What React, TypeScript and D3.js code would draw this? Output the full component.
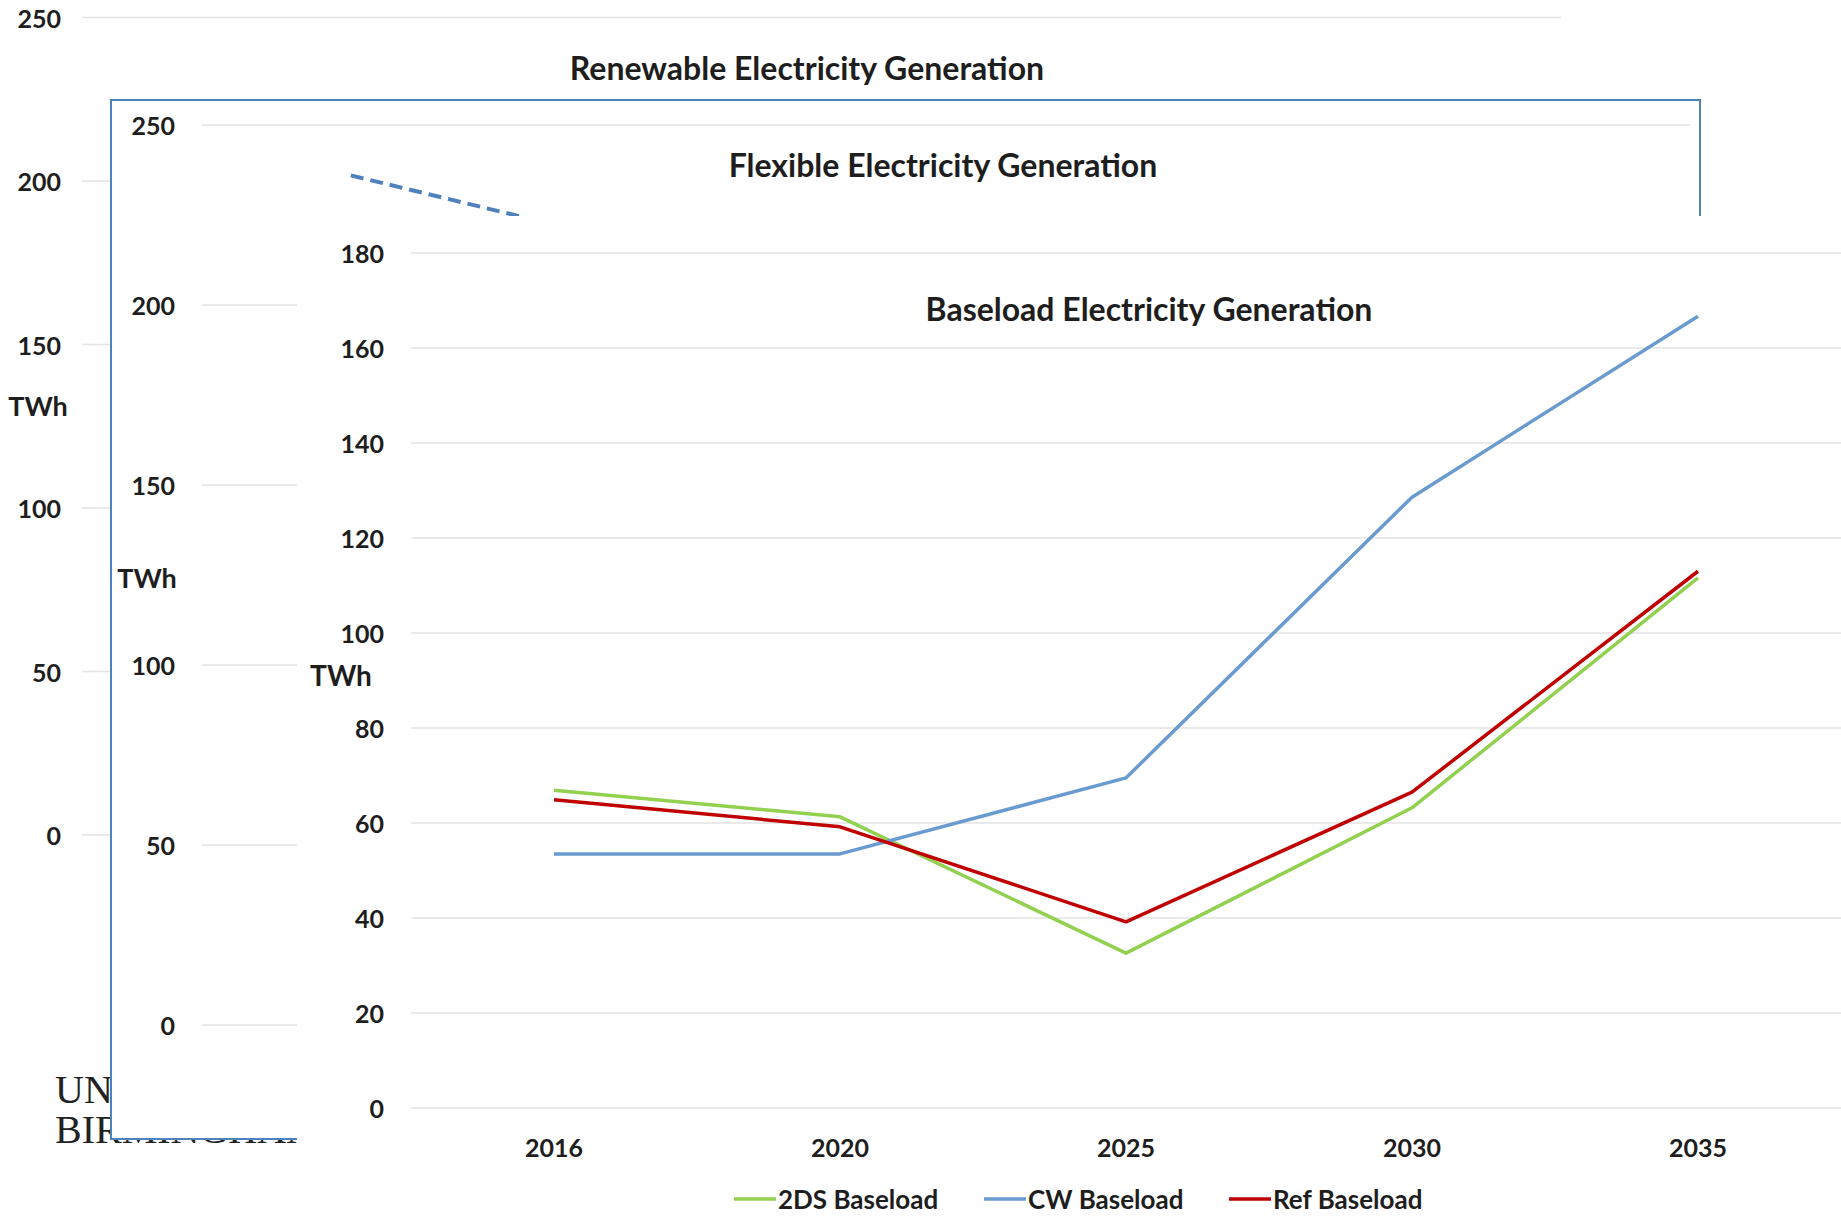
import React from 'react';
import * as d3 from 'd3';

// categories shared by the three stacked charts
const years = ['2016', '2020', '2025', '2030', '2035'];

// tick labels
const renewableTicks = [0, 50, 100, 150, 200, 250];
const flexibleTicks = [0, 50, 100, 150, 200, 250];
const baseloadTicks = [0, 20, 40, 60, 80, 100, 120, 140, 160, 180];

// flexible chart: only the first stretch of the dashed series is visible
const flexibleDashed = [236, 216];

// baseload series
const base2DS = [66.9, 61.3, 32.6, 63.2, 111.6];
const baseCW = [53.5, 53.5, 69.5, 128.6, 166.7];
const baseRef = [64.9, 59.2, 39.2, 66.5, 113];

const seriesNames = ['2DS Baseload', 'CW Baseload', 'Ref Baseload'];
const seriesColors = ['#92d050', '#6a9bd0', '#c00000'];

const FONT = 'Lato, "Open Sans", sans-serif';
const INK = '#1e1e1e';
const GRID = '#e3e3e3';

const App = () => {
  const W = 1841;
  const H = 1216;

  // back chart (Renewable)
  const renewY = d3.scaleLinear().domain([0, 250]).range([835, 17.5]);

  // middle chart (Flexible)
  const flexY = d3.scaleLinear().domain([0, 250]).range([1025, 125]);
  const flexX = d3.scalePoint().domain(years).range([202, 1690]).padding(0.5);

  // front chart (Baseload)
  const baseY = d3.scaleLinear().domain([0, 180]).range([1108, 253]);
  const baseX = d3.scalePoint().domain(years).range([411, 1841]).padding(0.5);

  const flexLine = d3.line<number>()
    .x((d, i) => flexX(years[i]) as number)
    .y(d => flexY(d));

  const baseLine = d3.line<number>()
    .x((d, i) => baseX(years[i]) as number)
    .y(d => baseY(d));

  const baseSeries = [base2DS, baseCW, baseRef];

  // legend positions
  const legendX = [734, 984, 1229];

  return (
    <svg
      width={W}
      height={H}
      style={{ position: 'absolute', left: 0, top: 0, background: '#fff' }}
      fontFamily={FONT}
    >
      <rect x={0} y={0} width={W} height={H} fill="#fff" />

      {/* Renewable Electricity Generation (back) */}
      <g>
        {renewableTicks.map(t => (
          <g key={'r' + t}>
            <line x1={82} x2={1561} y1={renewY(t)} y2={renewY(t)} stroke={GRID} strokeWidth={1.5} />
            <text x={61} y={renewY(t)} textAnchor="end" dominantBaseline="central"
              fontSize={25} fontWeight={700} fill={INK}>{t}</text>
          </g>
        ))}
        <text x={38} y={405} textAnchor="middle" dominantBaseline="central"
          fontSize={27} fontWeight={700} fill={INK}>TWh</text>
        <text x={807} y={67} textAnchor="middle" dominantBaseline="central"
          fontSize={32} fontWeight={700} fill={INK}>Renewable Electricity Generation</text>
      </g>

      {/* logo text behind the charts */}
      <text x={55} y={1103} fontFamily='"Liberation Serif", serif' fontSize={40} fill="#222">UNIVERSITY OF</text>
      <text x={55} y={1143} fontFamily='"Liberation Serif", serif' fontSize={40} fill="#222">BIRMINGHAM</text>

      {/* Flexible Electricity Generation (middle) */}
      <g>
        <rect x={111} y={100} width={1589} height={1039} fill="#fff" stroke="#4f81bd" strokeWidth={2} />
        {flexibleTicks.map(t => (
          <g key={'f' + t}>
            <line x1={202} x2={1690} y1={flexY(t)} y2={flexY(t)} stroke={GRID} strokeWidth={1.5} />
            <text x={175} y={flexY(t)} textAnchor="end" dominantBaseline="central"
              fontSize={25} fontWeight={700} fill={INK}>{t}</text>
          </g>
        ))}
        <text x={147} y={577} textAnchor="middle" dominantBaseline="central"
          fontSize={27} fontWeight={700} fill={INK}>TWh</text>
        <text x={943} y={164} textAnchor="middle" dominantBaseline="central"
          fontSize={32} fontWeight={700} fill={INK}>Flexible Electricity Generation</text>
        <path d={flexLine(flexibleDashed) || ''} fill="none" stroke="#4f81bd"
          strokeWidth={4} strokeDasharray="13,7" />
      </g>

      {/* Baseload Electricity Generation (front) */}
      <g>
        <rect x={297} y={216} width={W - 297} height={H - 216} fill="#fff" />
        {baseloadTicks.map(t => (
          <g key={'b' + t}>
            <line x1={411} x2={1841} y1={baseY(t)} y2={baseY(t)} stroke={GRID} strokeWidth={1.5} />
            <text x={384} y={baseY(t)} textAnchor="end" dominantBaseline="central"
              fontSize={25} fontWeight={700} fill={INK}>{t}</text>
          </g>
        ))}
        <text x={341} y={675} textAnchor="middle" dominantBaseline="central"
          fontSize={28} fontWeight={700} fill={INK}>TWh</text>
        <text x={1149} y={308} textAnchor="middle" dominantBaseline="central"
          fontSize={32} fontWeight={700} fill={INK}>Baseload Electricity Generation</text>
        {years.map(y => (
          <text key={'x' + y} x={baseX(y)} y={1147} textAnchor="middle" dominantBaseline="central"
            fontSize={25} fontWeight={700} fill={INK}>{y}</text>
        ))}
        {baseSeries.map((s, i) => (
          <path key={'s' + i} d={baseLine(s) || ''} fill="none" stroke={seriesColors[i]}
            strokeWidth={3.5} strokeLinejoin="round" />
        ))}
        {seriesNames.map((n, i) => (
          <g key={'l' + i}>
            <line x1={legendX[i]} x2={legendX[i] + 42} y1={1199} y2={1199}
              stroke={seriesColors[i]} strokeWidth={3.5} />
            <text x={legendX[i] + 44} y={1199} dominantBaseline="central"
              fontSize={26} fontWeight={700} fill={INK}>{n}</text>
          </g>
        ))}
      </g>
    </svg>
  );
};

export default App;
